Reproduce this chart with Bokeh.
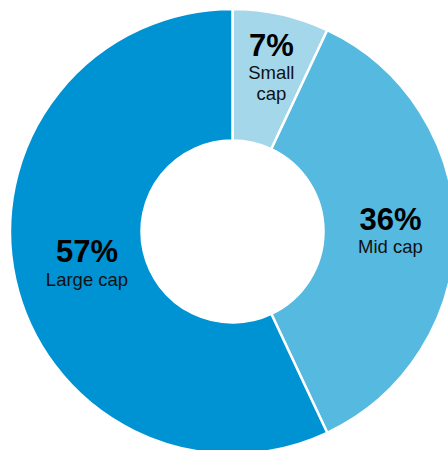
import math
from bokeh.plotting import figure
from bokeh.models import ColumnDataSource, Range1d
from bokeh.core.properties import value
from bokeh.embed import file_html
from bokeh.resources import INLINE

# ---- data ----
categories = ["Small cap", "Mid cap", "Large cap"]
shares = [7, 36, 57]
colors = ["#a5d7eb", "#55b9e0", "#0093d3"]

# ---- layout constants ----
W, H = 448, 450
CX, CY = 232, 231          # centre in pixels from top-left of the figure
R_OUT, R_IN = 222.5, 91
LABEL_R = {"Small cap": 0.80, "Mid cap": 0.71, "Large cap": 0.67}

p = figure(width=W, height=H, output_backend="svg", toolbar_location=None,
           x_range=Range1d(-CX, W - CX), y_range=Range1d(-(H - CY), CY),
           min_border=0)
p.axis.visible = False
p.grid.visible = False
p.outline_line_color = None
p.background_fill_color = "white"
p.border_fill_color = "white"

total = sum(shares)
starts, ends, lx, ly = [], [], [], []
cum = 0.0
for c, s in zip(categories, shares):
    a0 = math.pi / 2 - 2 * math.pi * cum / total
    a1 = math.pi / 2 - 2 * math.pi * (cum + s) / total
    starts.append(a0)
    ends.append(a1)
    mid = (a0 + a1) / 2
    r = LABEL_R[c] * R_OUT
    lx.append(r * math.cos(mid))
    ly.append(r * math.sin(mid))
    cum += s

src = ColumnDataSource(dict(start=starts, end=ends, color=colors,
                            x=[0] * 3, y=[0] * 3))
p.annular_wedge(x="x", y="y", inner_radius=R_IN, outer_radius=R_OUT,
                start_angle="start", end_angle="end", direction="clock",
                fill_color="color", line_color="white", line_width=2.5,
                source=src)

# percentage labels
pct_src = ColumnDataSource(dict(x=lx, y=ly, t=[f"{s}%" for s in shares]))
p.text(x="x", y="y", text="t", source=pct_src, text_align="center",
       text_baseline="alphabetic", y_offset=-12.5,
       text_font=value("Liberation Sans"), text_font_style="bold",
       text_font_size="31px", text_color="#000000")

# category name labels (narrow slices wrap one word per line)
nx, ny, nt, noff = [], [], [], []
for c, s, x, y in zip(categories, shares, lx, ly):
    lines = c.split(" ") if s / total < 0.1 else [c]
    for i, ln in enumerate(lines):
        nx.append(x)
        ny.append(y)
        nt.append(ln)
        noff.append(15 + i * 20.5)
name_src = ColumnDataSource(dict(x=nx, y=ny, t=nt, off=noff))
p.text(x="x", y="y", text="t", source=name_src, text_align="center",
       text_baseline="alphabetic", y_offset="off",
       text_font=value("Liberation Sans"), text_font_size="18.5px",
       text_color="#111111")

open("out.html", "w").write(file_html(p, INLINE))
